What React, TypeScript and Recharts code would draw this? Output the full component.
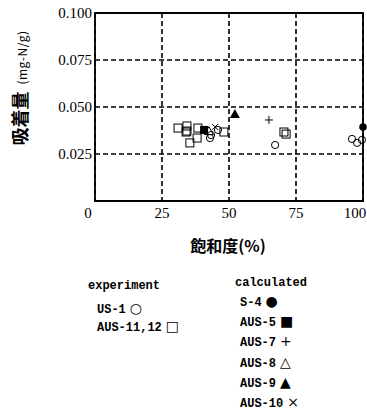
import {
  ScatterChart,
  CartesianGrid,
  XAxis,
  YAxis,
  Scatter,
  ReferenceArea,
  Label,
} from "recharts";

// experiment
const us1 = [
  { x: 42.9, y: 0.0335 },
  { x: 43.3, y: 0.0351 },
  { x: 45.9, y: 0.0378 },
  { x: 67.2, y: 0.0298 },
  { x: 95.9, y: 0.033 },
  { x: 97.8, y: 0.0309 },
  { x: 99.6, y: 0.0325 },
];
const aus1112 = [
  { x: 31.0, y: 0.0388 },
  { x: 34.3, y: 0.0399 },
  { x: 34.0, y: 0.0367 },
  { x: 34.3, y: 0.0372 },
  { x: 35.4, y: 0.0309 },
  { x: 38.1, y: 0.0335 },
  { x: 38.4, y: 0.0388 },
  { x: 48.1, y: 0.0367 },
  { x: 70.5, y: 0.0367 },
  { x: 71.3, y: 0.0356 },
];

// calculated
const s4 = [{ x: 100, y: 0.0394 }];
const aus5 = [{ x: 40.7, y: 0.0378 }];
const aus7 = [{ x: 64.9, y: 0.0431 }];
const aus8 = [{ x: 42.5, y: 0.0372 }];
const aus9 = [{ x: 52.2, y: 0.0463 }];
const aus10 = [{ x: 44.8, y: 0.0394 }];

const xTicks = [0, 25, 50, 75, 100];
const yTicks = [0.025, 0.05, 0.075, 0.1];

const expLegend = [
  ["US-1", "○"],
  ["AUS-11,12", "□"],
];
const calcLegend = [
  ["S-4", "●"],
  ["AUS-5", "■"],
  ["AUS-7", "+"],
  ["AUS-8", "△"],
  ["AUS-9", "▲"],
  ["AUS-10", "×"],
];

const openCircle = ({ cx, cy }) => (
  <circle cx={cx} cy={cy} r={3.6} fill="none" stroke="#000" strokeWidth={1} />
);
const fillCircle = ({ cx, cy }) => <circle cx={cx} cy={cy} r={3.8} fill="#000" />;
const openSquare = ({ cx, cy }) => (
  <rect x={cx - 4} y={cy - 4} width={8} height={8} fill="none" stroke="#000" strokeWidth={1} />
);
const fillSquare = ({ cx, cy }) => <rect x={cx - 4} y={cy - 4} width={8} height={8} fill="#000" />;
const plus = ({ cx, cy }) => (
  <path d={`M${cx - 4},${cy}H${cx + 4}M${cx},${cy - 4}V${cy + 4}`} stroke="#000" strokeWidth={1} />
);
const cross = ({ cx, cy }) => (
  <path
    d={`M${cx - 3},${cy - 3}L${cx + 3},${cy + 3}M${cx - 3},${cy + 3}L${cx + 3},${cy - 3}`}
    stroke="#000"
    strokeWidth={1}
  />
);
const openTri = ({ cx, cy }) => (
  <path d={`M${cx},${cy - 4.5}L${cx + 4.5},${cy + 3.5}L${cx - 4.5},${cy + 3.5}Z`} fill="none" stroke="#000" />
);
const fillTri = ({ cx, cy }) => (
  <path d={`M${cx},${cy - 5}L${cx + 5},${cy + 4}L${cx - 5},${cy + 4}Z`} fill="#000" />
);

const XTick = ({ x, y, payload }) => (
  <text
    x={payload.value === 0 ? x - 7 : payload.value === 100 ? x - 8 : x}
    y={y + 9}
    textAnchor="middle"
    fontFamily="Liberation Serif"
    fontSize={15}
    fill="#000"
  >
    {payload.value}
  </text>
);

const YLabel = () => (
  <text
    transform="translate(27,88) rotate(-90)"
    textAnchor="middle"
    fill="#000"
    fontFamily="Noto Sans CJK JP"
  >
    <tspan fontSize={18} fontWeight="bold">吸着量</tspan>
    <tspan fontSize={12} dx={7} letterSpacing={0.5}>(mg-N/g)</tspan>
  </text>
);

const legendText = {
  position: "absolute" as const,
  fontFamily: "Liberation Mono",
  fontWeight: "bold",
  fontSize: 12,
  lineHeight: "14px",
  color: "#000",
  whiteSpace: "pre" as const,
};

const glyph = { fontFamily: "DejaVu Sans", fontWeight: "normal", fontSize: 14, marginLeft: 4 };

export default function App() {
  return (
    <div style={{ position: "absolute", left: 0, top: 0, width: 367, height: 415, background: "#fff" }}>
      <ScatterChart width={367} height={415} margin={{ top: 13, right: 4, bottom: 184, left: 35 }}>
        <CartesianGrid stroke="#000" strokeWidth={1.6} strokeDasharray="5 3" />
        <XAxis
          type="number"
          dataKey="x"
          domain={[0, 100]}
          ticks={xTicks}
          height={30}
          axisLine={false}
          tickLine={false}
          tick={XTick}
          interval={0}
        >
          <Label
            value="飽和度(%)"
            position="insideBottom"
            offset={-21}
            fill="#000"
            fontSize={16}
            fontWeight="bold"
            fontFamily="Noto Sans CJK JP"
            dx={-1}
          />
        </XAxis>
        <YAxis
          type="number"
          dataKey="y"
          domain={[0, 0.1]}
          ticks={yTicks}
          width={60}
          axisLine={false}
          tickLine={false}
          tickSize={0}
          tickMargin={3}
          tickFormatter={(v) => v.toFixed(3)}
          tick={{ fill: "#000", fontSize: 15, fontFamily: "Liberation Serif" }}
          interval={0}
          label={<YLabel />}
        />
        <ReferenceArea x1={0} x2={100} y1={0} y2={0.1} fill="none" stroke="#000" strokeWidth={1.8} />
        <Scatter data={aus1112} shape={openSquare} isAnimationActive={false} />
        <Scatter data={us1} shape={openCircle} isAnimationActive={false} />
        <Scatter data={s4} shape={fillCircle} isAnimationActive={false} />
        <Scatter data={aus5} shape={fillSquare} isAnimationActive={false} />
        <Scatter data={aus7} shape={plus} isAnimationActive={false} />
        <Scatter data={aus8} shape={openTri} isAnimationActive={false} />
        <Scatter data={aus9} shape={fillTri} isAnimationActive={false} />
        <Scatter data={aus10} shape={cross} isAnimationActive={false} />
      </ScatterChart>
      <div style={{ ...legendText, left: 88, top: 279 }}>experiment</div>
      {expLegend.map(([t, g], i) => (
        <div key={t} style={{ ...legendText, left: 97, top: 301 + i * 18 }}>
          {t}
          <span style={glyph}>{g}</span>
        </div>
      ))}
      <div style={{ ...legendText, left: 235, top: 276 }}>calculated</div>
      {calcLegend.map(([t, g], i) => (
        <div key={t} style={{ ...legendText, left: 240, top: 294 + i * 20.2 }}>
          {t}
          <span style={glyph}>{g}</span>
        </div>
      ))}
    </div>
  );
}
